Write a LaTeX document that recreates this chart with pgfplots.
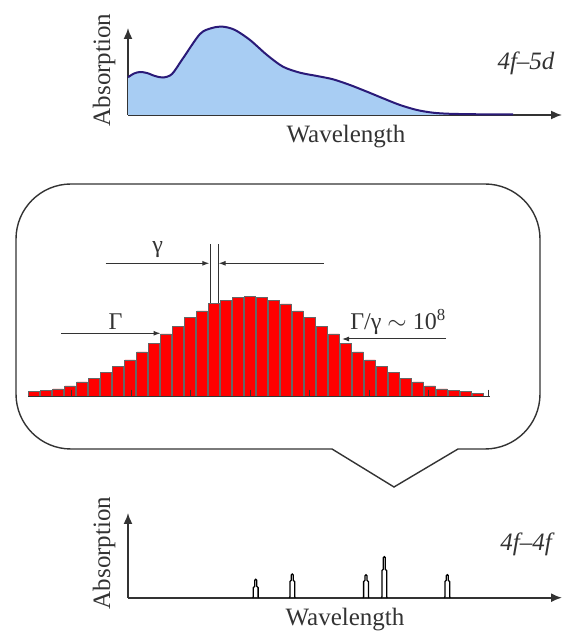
\documentclass[border=0pt]{standalone}
\usepackage{fontspec}
\setmainfont{Liberation Serif}
\usepackage{pgfplots}
\pgfplotsset{compat=1.18}
\usetikzlibrary{arrows.meta}

\definecolor{fillblue}{HTML}{A8CDF3}
\definecolor{lineblue}{HTML}{2A1A78}
\definecolor{barred}{HTML}{FF0000}
\definecolor{ink}{HTML}{333333}

\pgfplotsset{
  spec/.style={scale only axis, axis lines=left, xtick=\empty, ytick=\empty,
    clip=false,
    axis line style={line width=1.6pt, draw=ink, -{Latex[length=11pt,width=9pt]}}}
}
\tikzset{
  big/.style={font=\rmfamily\fontsize{25}{30}\selectfont, text=ink},
  mid/.style={font=\rmfamily\fontsize{24}{28}\selectfont, text=ink},
  dim/.style={line width=1pt, draw=ink, -{Latex[length=7pt,width=5pt]}}
}

\begin{document}
\begin{tikzpicture}[x=1pt,y=1pt]
\path[use as bounding box] (0,0) rectangle (563,633);

% 4f-5d band
\begin{axis}[spec, at={(128pt,518pt)}, anchor=south west,
    width=434pt, height=87pt, xmin=128, xmax=562, ymin=0, ymax=87]
\addplot[fill=fillblue, draw=none, smooth] coordinates {
  (128,37.7) (134,41.5) (140,43) (147,42) (155,39) (163,37.5) (172,41)
  (183,56.7) (200,81) (212,87) (223,88.3) (235,85) (250,75) (267,60)
  (283,48.3) (300,42.3) (317,39) (333,35.7) (350,30) (367,23.3) (383,16.7)
  (400,10) (417,5) (433,2.3) (450,1.2) (480,0.7) (513,0.5)} \closedcycle;
\addplot[draw=lineblue, line width=2pt, smooth] coordinates {
  (128,37.7) (134,41.5) (140,43) (147,42) (155,39) (163,37.5) (172,41)
  (183,56.7) (200,81) (212,87) (223,88.3) (235,85) (250,75) (267,60)
  (283,48.3) (300,42.3) (317,39) (333,35.7) (350,30) (367,23.3) (383,16.7)
  (400,10) (417,5) (433,2.3) (450,1.2) (480,0.7) (513,0.5)};
\end{axis}

% zoomed band: lines
\begin{axis}[scale only axis, at={(28pt,236.3pt)}, anchor=south west,
    width=462pt, height=100pt, xmin=28, xmax=490, ymin=0, ymax=100,
    axis x line=bottom, axis y line=none, clip=false, axis on top,
    x axis line style={-, line width=1.5pt, draw=ink},
    xtick={71.7,131.2,190.7,250.2,309.7,369.2,428.7,488.2}, xticklabels={},
    xtick align=inside, major tick length=-7pt, tick style={line width=1pt, draw=ink},
    ybar, bar width=10.5pt]
\addplot[fill=barred, draw=black!60, line width=0.6pt] coordinates {
  (34,5) (46,6) (58,7.7) (70,10.7) (82,14.7) (94,18.3) (106,24.3) (118,30)
  (130,36.7) (142,44.7) (154,53.3) (166,62.7) (178,70) (190,79) (202,85.7)
  (214,93.3) (226,96) (238,99.3) (250,100) (262,99) (274,96) (286,92.7)
  (298,85.7) (310,79) (322,70) (334,62.7) (346,53.3) (358,44.7) (370,36.7)
  (382,30) (394,24.3) (406,18.3) (418,14.7) (430,10.7) (442,7.7) (454,6)
  (466,5) (478,3)};
\draw[line width=1pt, draw=ink] (axis cs:210,93.3) -- (axis cs:210,152.7);
\draw[line width=1pt, draw=ink] (axis cs:218,93.3) -- (axis cs:218,152.7);
\draw[dim] (axis cs:105.7,133.4) -- (axis cs:209.3,133.4);
\draw[dim] (axis cs:323.7,133.4) -- (axis cs:218.6,133.4);
\draw[dim] (axis cs:61,63.4) -- (axis cs:160.5,63.4);
\draw[dim] (axis cs:446,57.7) -- (axis cs:342,57.7);
\node[mid] at (axis cs:157.7,146.7) {γ};
\node[mid] at (axis cs:115.6,75) {Γ};
\node[mid] at (axis cs:398,74.7) {Γ/γ $\sim$ 10\textsuperscript{8}};
\end{axis}

% 4f-4f lines
\begin{axis}[spec, at={(128pt,35.3pt)}, anchor=south west,
    width=434pt, height=84.7pt, xmin=128, xmax=562, ymin=0, ymax=84.7]
\addplot[draw=black, line width=1.3pt] coordinates {
  (252.7,0) (253.3,0.8) (253.3,10) (254.7,11.5) (254.7,17.4) (255.7,18.4)
  (256.7,17.4) (256.7,11.5) (258.1,10) (258.1,0.8) (258.7,0)};
\addplot[draw=black, line width=1.3pt] coordinates {
  (289.3,0) (289.9,0.8) (289.9,16) (291.3,17.5) (291.3,22.7) (292.3,23.7)
  (293.3,22.7) (293.3,17.5) (294.7,16) (294.7,0.8) (295.3,0)};
\addplot[draw=black, line width=1.3pt] coordinates {
  (363,0) (363.6,0.8) (363.6,16) (365,17.5) (365,22) (366,23)
  (367,22) (367,17.5) (368.4,16) (368.4,0.8) (369,0)};
\addplot[draw=black, line width=1.3pt] coordinates {
  (381.3,0) (381.9,0.8) (381.9,27) (383.3,28.5) (383.3,40) (384.3,41)
  (385.3,40) (385.3,28.5) (386.7,27) (386.7,0.8) (387.3,0)};
\addplot[draw=black, line width=1.3pt] coordinates {
  (444.3,0) (444.9,0.8) (444.9,16) (446.3,17.5) (446.3,22) (447.3,23)
  (448.3,22) (448.3,17.5) (449.7,16) (449.7,0.8) (450.3,0)};
\end{axis}

% callout frame
\draw[line width=1.4pt, draw=ink] (332,184) -- (71,184)
  arc[start angle=270, end angle=180, radius=55pt] -- (16,394)
  arc[start angle=180, end angle=90, radius=55pt] -- (485,449)
  arc[start angle=90, end angle=0, radius=55pt] -- (540,239)
  arc[start angle=0, end angle=-90, radius=55pt] -- (458,184)
  -- (394,146) -- cycle;

% labels
\node[big, rotate=90] at (104,563) {Absorption};
\node[big] at (346,496) {Wavelength};
\node[big] at (526,570) {\itshape 4f–5d};
\node[big, rotate=90] at (104,80) {Absorption};
\node[big] at (345,13) {Wavelength};
\node[big] at (526,89) {\itshape 4f–4f};
\end{tikzpicture}
\end{document}
